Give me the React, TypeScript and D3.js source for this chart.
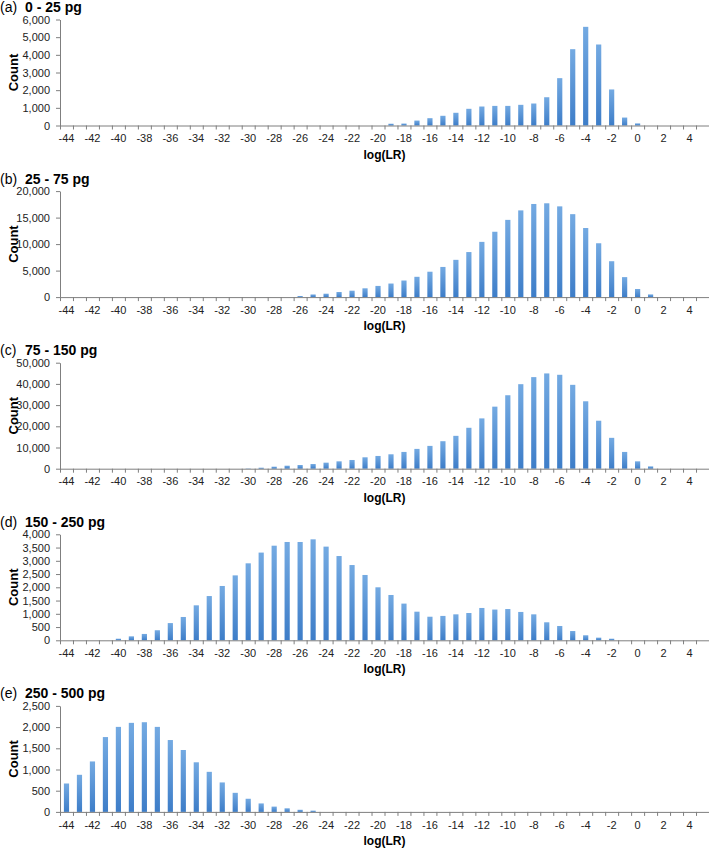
import React, { useEffect, useRef } from 'react';
import * as d3 from 'd3';

// log(LR) bins, -44 .. 5
const categories = [
  -44, -43, -42, -41, -40, -39, -38, -37, -36, -35, -34, -33, -32, -31, -30, -29, -28, -27, -26, -25,
  -24, -23, -22, -21, -20, -19, -18, -17, -16, -15, -14, -13, -12, -11, -10, -9, -8, -7, -6, -5,
  -4, -3, -2, -1, 0, 1, 2, 3, 4, 5,
];
const xTickLabels = [-44, -42, -40, -38, -36, -34, -32, -30, -28, -26, -24, -22, -20, -18, -16, -14, -12, -10, -8, -6, -4, -2, 0, 2, 4];

const countsA = [
  0, 0, 0, 0, 0, 0, 0, 0, 0, 0, 0, 0, 0, 0, 0, 0, 0, 0, 0, 0,
  0, 0, 0, 0, 0, 100, 110, 280, 415, 550, 720, 945, 1075, 1110, 1110, 1170, 1245, 1600, 2680, 4320,
  5585, 4585, 2040, 450, 120, 0, 0, 0, 0, 0,
];
const countsB = [
  0, 0, 0, 0, 0, 0, 0, 0, 0, 0, 0, 0, 0, 0, 0, 0, 0, 0, 200, 500,
  640, 960, 1210, 1660, 2110, 2560, 3130, 3830, 4790, 5690, 7030, 8500, 10420, 12330, 14570, 16360, 17570, 17700, 17120, 15650,
  13035, 10160, 6770, 3770, 1530, 510, 0, 0, 0, 0,
];
const countsC = [
  0, 0, 0, 0, 0, 0, 0, 0, 0, 0, 0, 0, 0, 0, 150, 475, 950, 1420, 1740, 2200,
  2850, 3480, 4110, 5380, 6010, 6800, 7910, 9340, 10760, 12970, 15500, 19300, 23730, 29270, 34650, 39870, 43200, 44940, 44300, 39560,
  31800, 22630, 14560, 7910, 3480, 1100, 0, 0, 0, 0,
];
const countsD = [
  0, 0, 0, 0, 60, 150, 240, 380, 650, 880, 1320, 1670, 2050, 2450, 2905, 3310, 3570, 3710, 3710, 3810,
  3535, 3180, 2840, 2465, 2000, 1710, 1385, 1080, 890, 920, 980, 1030, 1220, 1160, 1180, 1070, 980, 680, 540, 350,
  190, 100, 60, 0, 0, 0, 0, 0, 0, 0,
];
const countsE = [
  670, 875, 1190, 1765, 2005, 2100, 2115, 2005, 1695, 1460, 1170, 945, 695, 450, 310, 200, 125, 85, 50, 30,
  0, 0, 0, 0, 0, 0, 0, 0, 0, 0, 0, 0, 0, 0, 0, 0, 0, 0, 0, 0,
  0, 0, 0, 0, 0, 0, 0, 0, 0, 0,
];

const panelLetters = ['(a)', '(b)', '(c)', '(d)', '(e)'];
const panelTitles = ['0 - 25 pg', '25 - 75 pg', '75 - 150 pg', '150 - 250 pg', '250 - 500 pg'];
const panelMax = [6000, 20000, 50000, 4000, 2500];
const panelStep = [1000, 5000, 10000, 500, 500];
const panelCounts = [countsA, countsB, countsC, countsD, countsE];

const W = 709;
const H = 848;
const FONT = '"Liberation Sans", Arial, sans-serif';

const App: React.FC = () => {
  const svgRef = useRef<SVGSVGElement>(null);

  useEffect(() => {
    if (!svgRef.current) return;
    const svg = d3.select(svgRef.current);
    svg.selectAll('*').remove();

    const left = 60;
    const right = 709;
    const plotH = 106;

    const defs = svg.append('defs');
    const grad = defs.append('linearGradient')
      .attr('id', 'barGrad')
      .attr('x1', 0).attr('y1', 0).attr('x2', 0).attr('y2', 1);
    grad.append('stop').attr('offset', '0%').attr('stop-color', '#74aae2');
    grad.append('stop').attr('offset', '100%').attr('stop-color', '#3d7dc8');

    const x = d3.scaleBand<number>()
      .domain(categories)
      .range([left, right])
      .paddingInner(0.6)
      .paddingOuter(0.3);
    // boundaries between categories, for the tick marks
    const xEdge = d3.scaleLinear().domain([0, categories.length]).range([left, right]);

    panelCounts.forEach((counts, i) => {
      const top = 19.5 + i * 171.6;
      const bottom = top + plotH;
      const y = d3.scaleLinear().domain([0, panelMax[i]]).range([bottom, top]);
      const g = svg.append('g');

      // title
      const title = g.append('text')
        .attr('x', 0)
        .attr('y', top - 7.5)
        .attr('font-family', FONT)
        .attr('font-size', 14)
        .attr('fill', '#000');
      title.append('tspan').text(panelLetters[i]);
      title.append('tspan').attr('x', 25).attr('font-weight', 'bold').text(panelTitles[i]);

      // bars
      g.selectAll('rect.bar')
        .data(counts.map((v, k) => ({ c: categories[k], v })).filter(d => d.v > 0))
        .enter()
        .append('rect')
        .attr('class', 'bar')
        .attr('x', d => x(d.c)!)
        .attr('width', x.bandwidth())
        .attr('y', d => y(d.v))
        .attr('height', d => bottom - y(d.v))
        .attr('fill', 'url(#barGrad)');

      // y axis
      const yAxis = g.append('g')
        .attr('transform', `translate(${left},0)`)
        .call(d3.axisLeft(y)
          .tickValues(d3.range(0, panelMax[i] + 1, panelStep[i]))
          .tickFormat(d3.format(','))
          .tickSize(4)
          .tickSizeOuter(0)
          .tickPadding(6));
      yAxis.selectAll('path, line').attr('stroke', '#7f7f7f');
      yAxis.selectAll('text').attr('font-family', FONT).attr('font-size', 11).attr('fill', '#222');

      // x axis: boundary ticks
      const xTicks = g.append('g')
        .attr('transform', `translate(0,${bottom})`)
        .call(d3.axisBottom(xEdge)
          .tickValues(d3.range(0, categories.length + 1))
          .tickFormat(() => '')
          .tickSize(4)
          .tickSizeOuter(0));
      xTicks.selectAll('path, line').attr('stroke', '#7f7f7f');

      // x axis: labels at category centres
      const xLabels = g.append('g')
        .attr('transform', `translate(0,${bottom})`)
        .call(d3.axisBottom(x).tickValues(xTickLabels).tickSize(0).tickPadding(9));
      xLabels.select('.domain').remove();
      xLabels.selectAll('text').attr('font-family', FONT).attr('font-size', 11).attr('fill', '#222');

      // axis titles
      g.append('text')
        .attr('transform', `translate(18,${(top + bottom) / 2}) rotate(-90)`)
        .attr('text-anchor', 'middle')
        .attr('font-family', FONT)
        .attr('font-size', 13)
        .attr('font-weight', 'bold')
        .text('Count');

      g.append('text')
        .attr('x', (left + right) / 2)
        .attr('y', bottom + 33)
        .attr('text-anchor', 'middle')
        .attr('font-family', FONT)
        .attr('font-size', 12)
        .attr('font-weight', 'bold')
        .text('log(LR)');
    });
  }, []);

  return (
    <svg
      ref={svgRef}
      width={W}
      height={H}
      viewBox={`0 0 ${W} ${H}`}
      style={{ position: 'absolute', left: 0, top: 0, background: '#fff' }}
    />
  );
};

export default App;
